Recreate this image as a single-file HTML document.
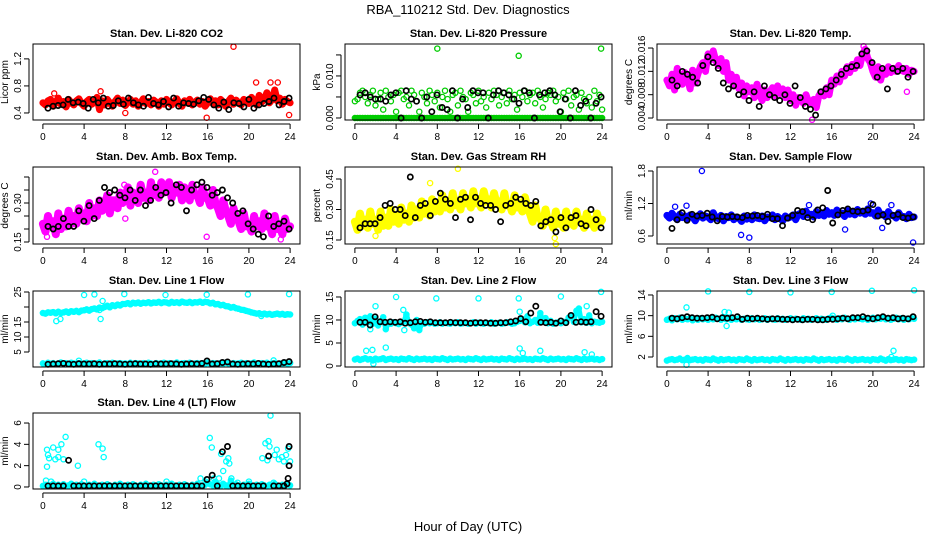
<!DOCTYPE html>
<html><head><meta charset="utf-8"><style>
html,body{margin:0;padding:0;background:#fff;}
svg text{font-family:"Liberation Sans",sans-serif;}
</style></head><body>
<svg id="fig" width="936" height="540" viewBox="0 0 936 540" xmlns="http://www.w3.org/2000/svg">
<text x="468" y="14" text-anchor="middle" font-size="13">RBA_110212  Std. Dev. Diagnostics</text>
<text x="468" y="531" text-anchor="middle" font-size="13">Hour of Day (UTC)</text>
</svg>
<script>
// ---------- data ----------
const xTicks=[0,4,8,12,16,20,24];
const co2Red=[0.55,0.52,0.58,0.60,0.50,0.56,0.62,0.53,0.57,0.49,0.60,0.55,0.52,0.58,0.61,0.54,0.50,0.57,0.60,0.53,0.56,0.63,0.45,0.58,0.52,0.60,0.55,0.50,0.57,0.62,0.54,0.59,0.51,0.56,0.60,0.53,0.58,0.50,0.55,0.61,0.54,0.57,0.52,0.59,0.56,0.50,0.58,0.53,0.60,0.55,0.52,0.57,0.61,0.54,0.50,0.58,0.55,0.60,0.52,0.56,0.59,0.53,0.57,0.50,0.55,0.61,0.54,0.58,0.52,0.60,0.56,0.50,0.57,0.62,0.53,0.59,0.55,0.52,0.60,0.57,0.54,0.63,0.58,0.52,0.66,0.56,0.61,0.70,0.55,0.60,0.74,0.58,0.62,0.53,0.60,0.57,0.55];
const co2Out=[[18.5,1.38],[20.7,0.85],[22.1,0.85],[22.8,0.85],[15.9,0.33],[23.9,0.37],[8,0.4],[5.6,0.72],[1.1,0.69]];
const co2Black=[0.47,0.50,0.51,0.52,0.60,0.55,0.56,0.54,0.47,0.60,0.55,0.62,0.50,0.51,0.58,0.53,0.62,0.55,0.52,0.50,0.63,0.54,0.52,0.57,0.49,0.62,0.50,0.55,0.54,0.53,0.58,0.63,0.60,0.52,0.47,0.56,0.45,0.55,0.54,0.49,0.60,0.47,0.52,0.54,0.57,0.62,0.52,0.57,0.62];

const presGreen=[.004,.0045,.006,.0065,.005,.0035,.0055,.0065,.003,.0045,.006,.002,.0065,.005,.004,.0055,.0015,.006,.0065,.0045,.005,.003,.0065,.0055,.004,.0015,.006,.005,.0035,.0065,.0055,.004,.006,.0025,.005,.0065,.0045,.0015,.0055,.006,.003,.0065,.005,.0045,.0015,.006,.0055,.0035,.0065,.004,.005,.0025,.006,.0045,.0065,.0055,.003,.005,.006,.0035,.0065,.0045,.0055,.002,.006,.005,.0065,.004,.0055,.006,.0035,.0065,.005,.0025,.0045,.006,.0055,.0065,.004,.005,.0015,.006,.0045,.0065,.003,.005,.0055,.002,.006,.0045,.0035,.005,.0025,.0065,.004,.0055,.002];
const presZero=[0,0,0,0,0,0,0,0,0,0,0,0,0,0,0,0,0,0,0,0,0,0,0,0,0,0,0,0,0,0,0,0,0,0,0,0,0,0,0,0,0,0,0,0,0,0,0,0,0,0,0,0,0,0,0,0,0,0,0,0,0,0,0,0,0,0,0,0,0,0,0,0,0,0,0,0,0,0,0,0,0,0,0,0,0,0,0,0,0,0,0,0,0,0,0,0,0];
const presOut=[[8,.0165],[15.9,.0148],[23.9,.0165]];
const presBlack=[.0055,.006,.005,.0045,.0045,.004,.0055,.006,0,.0065,.0045,.004,0,.005,.0015,.0055,.0025,.002,.0065,0,.0045,.0025,.0065,.006,.006,0,.0055,.0065,.006,.0055,.0045,.0035,.0065,.006,0,.0055,.006,.0065,.0055,.0015,.0045,0,.0065,.003,.004,0,.0035,.005];

const litMag=[.0105,.0095,.0115,.0088,.0125,.0105,.0098,.0118,.0108,.0090,.0122,.0100,.0115,.0128,.0135,.0120,.0150,.0140,.0155,.0138,.0130,.0142,.0120,.0135,.0105,.0115,.0095,.0110,.0090,.0100,.0078,.0095,.0085,.0092,.0075,.0098,.0080,.0070,.0088,.0075,.0085,.0092,.0078,.0095,.0082,.0090,.0075,.0088,.0070,.0080,.0062,.0075,.0072,.0065,.0080,.0068,.0065,.0072,.0058,.0078,.0085,.0078,.0092,.0080,.0105,.0098,.0112,.0102,.0120,.0112,.0128,.0118,.0132,.0125,.0140,.0130,.0150,.0158,.0142,.0135,.0120,.0110,.0128,.0105,.0122,.0115,.0128,.0118,.0125,.0120,.0130,.0122,.0120,.0125,.0115,.0122,.0120];
const litOut=[[14.1,.0037],[19.1,.0163],[23.3,.0085]];
const litBlack=[.0105,.0095,.0120,.0115,.0110,.0100,.0130,.0145,.0135,.0125,.0100,.0090,.0095,.0080,.0085,.0070,.0085,.0060,.0095,.0080,.0075,.0070,.0080,.0065,.0095,.0075,.0060,.0055,.0045,.0085,.0090,.0095,.0105,.0115,.0125,.0128,.0130,.0150,.0155,.0135,.0110,.0125,.0090,.0125,.0120,.0125,.0110,.0120];

const ambMag=[.22,.19,.25,.21,.23,.18,.26,.20,.24,.21,.27,.22,.25,.22,.28,.24,.26,.23,.30,.25,.28,.25,.31,.27,.29,.33,.26,.31,.31,.28,.34,.30,.32,.36,.29,.34,.33,.30,.37,.32,.34,.31,.38,.33,.35,.32,.38,.34,.35,.38,.32,.36,.34,.37,.31,.36,.34,.31,.37,.33,.33,.30,.36,.32,.32,.29,.35,.30,.28,.25,.31,.27,.25,.22,.28,.24,.23,.20,.26,.21,.22,.19,.25,.21,.23,.20,.26,.21,.22,.18,.25,.20,.21,.18,.24,.20,.21];
const ambOut=[[10.9,.42],[0.4,.17],[15.9,.17],[23.1,.16],[8,.24],[7.9,.37]];
const ambBlack=[.21,.20,.21,.24,.21,.21,.27,.23,.29,.24,.31,.36,.34,.35,.33,.32,.35,.31,.35,.29,.31,.36,.33,.34,.30,.37,.36,.27,.35,.37,.38,.36,.33,.34,.35,.32,.30,.26,.27,.22,.20,.18,.17,.25,.21,.22,.23,.20];

const rhYel=[.24,.20,.28,.22,.25,.21,.29,.23,.25,.20,.29,.22,.26,.22,.30,.24,.27,.23,.31,.25,.28,.24,.32,.26,.30,.26,.34,.28,.31,.27,.35,.29,.33,.29,.37,.31,.34,.30,.38,.32,.34,.30,.38,.33,.35,.31,.39,.33,.35,.31,.39,.34,.35,.31,.38,.33,.34,.30,.38,.32,.33,.29,.37,.31,.33,.29,.36,.31,.28,.24,.32,.26,.26,.22,.30,.24,.25,.21,.29,.23,.25,.21,.29,.23,.25,.22,.29,.24,.25,.21,.28,.23,.25,.21,.28,.23,.25];
const rhOut=[[10,.5],[19.5,.13],[7.3,.43],[2,.17],[19.4,.16]];
const rhBlack=[.21,.23,.23,.23,.26,.32,.33,.30,.30,.27,.46,.26,.32,.33,.27,.34,.38,.35,.33,.26,.35,.36,.25,.36,.33,.32,.32,.30,.24,.32,.33,.36,.35,.33,.32,.34,.22,.24,.25,.19,.26,.21,.26,.27,.23,.22,.30,.25,.21];

const sfBlue=[.98,.93,1.02,.95,.90,1.00,.94,.97,.92,.99,.95,.88,.96,1.01,.93,.97,.95,.90,1.03,.94,.92,.98,.88,.96,.94,.99,.90,.95,.93,.87,.97,.91,.95,.90,.99,.93,.92,.97,.88,.95,.94,.99,.90,.96,.92,.88,.97,.93,.95,.99,.90,1.00,1.02,.96,1.06,.99,1.00,.95,1.05,.98,1.02,.97,1.07,1.00,1.03,.98,1.08,1.01,1.02,.96,1.07,1.00,1.04,.99,1.09,1.02,1.05,1.00,1.10,1.02,1.03,.97,1.08,.99,1.00,.95,1.05,.98,.98,.93,1.03,.96,.96,.92,1.00,.94,.95];
const sfOut=[[3.4,1.8],[8,0.57],[7.2,0.62],[23.9,0.48],[1.9,1.16],[13.8,1.17],[19.8,1.2],[20.9,0.75],[17.3,0.72],[0.8,1.14],[21.8,1.17]];
const sfBlack=[.74,.90,1.03,.89,1.00,.97,.98,1.02,.95,.88,.96,.95,.96,.95,.94,.98,.97,.98,.96,1.00,.92,.92,.79,.93,.98,1.07,1.05,.94,.90,1.08,1.12,1.44,.84,.99,1.07,1.10,1.06,1.05,1.06,1.08,1.18,.97,.99,.87,.98,1.00,.94,.93,.95];

const l1Up=[18.0,17.8,18.2,18.1,18.3,17.9,18.4,18.0,18.2,18.5,18.1,18.6,18.4,18.7,18.3,18.8,18.9,19.2,18.8,19.3,19.5,19.2,19.8,19.6,20.0,20.4,19.9,20.6,20.3,20.8,20.5,21.0,21.0,21.3,20.9,21.4,21.2,21.5,21.1,21.4,21.3,21.6,21.2,21.5,21.4,21.7,21.3,21.6,21.5,21.2,21.7,21.4,21.6,21.3,21.8,21.5,21.4,21.7,21.3,21.6,21.5,21.8,21.4,21.7,21.6,21.2,21.4,20.9,21.0,20.6,20.7,20.3,20.2,19.8,20.0,19.6,19.4,19.1,19.0,18.7,18.5,18.2,18.0,17.8,17.9,17.6,17.8,17.5,17.7,17.4,17.6,17.8,17.5,17.7,17.4,17.6,17.5];
const l1Low=[1.2,1.0,1.4,1.1,1.3,0.9,1.2,1.5,1.0,1.3,1.1,1.4,1.2,1.0,1.3,1.1,1.2,1.4,1.0,1.3,1.1,1.2,1.5,1.0,1.2,1.3,1.1,1.4,1.0,1.2,1.3,1.1,1.2,1.0,1.4,1.1,1.3,1.2,1.0,1.3,1.1,1.4,1.2,1.0,1.3,1.1,1.2,1.4,1.0,1.3,1.1,1.2,1.5,1.0,1.2,1.3,1.1,1.4,1.0,1.2,1.3,1.1,1.2,1.0,1.4,1.1,1.3,1.2,1.0,1.3,1.1,1.4,1.2,1.0,1.3,1.1,1.2,1.4,1.0,1.3,1.1,1.2,1.5,1.0,1.2,1.3,1.1,1.4,1.0,1.2,1.3,1.1,1.2,1.0,1.4,1.1,1.3];
const l1Out=[[4,24],[5,24.2],[7.9,24.3],[11.9,24],[15.9,24.1],[19.9,24.2],[23.9,24.3],[1.3,15.3],[1.7,16],[5.6,16],[5.5,19],[3.5,2.1],[22.4,2.2],[5.8,22],[21.2,17]];
const l1Black=[0.9,1.0,1.1,1.2,1.0,0.9,1.1,1.0,1.0,1.1,0.9,1.0,1.0,1.1,1.0,0.9,1.0,1.1,1.0,1.0,0.9,1.1,1.0,1.0,1.1,1.0,0.9,1.0,1.1,1.0,1.2,2.0,1.0,1.1,1.5,1.7,1.0,0.9,1.0,1.1,1.0,1.2,1.0,0.9,1.0,1.1,1.5,1.8];

const l2Up=[9.3,9.8,10.2,9.0,10.5,9.5,10.8,9.2,10.3,8.8,9.6,10.6,8.0,9.4,9.2,9.5,9.3,9.1,9.4,9.6,11.2,9.3,9.0,8.2,10.0,7.8,9.3,9.2,9.5,9.3,9.4,9.2,9.3,9.5,9.2,9.4,9.3,9.2,9.4,9.3,9.5,9.2,9.3,9.4,9.2,9.3,9.5,9.2,9.4,9.3,9.2,9.4,9.3,9.5,9.2,9.3,9.4,9.2,9.3,9.5,9.4,9.2,9.3,9.6,9.8,10.2,9.5,10.8,9.3,9.6,10.0,9.4,11.5,9.6,10.4,9.3,9.8,9.2,9.4,9.5,9.3,9.6,9.4,10.5,11.0,9.6,12.0,12.5,9.5,10.2,9.4,11.0,9.3,9.6,9.5,9.4,9.6];
const l2Low=[1.4,1.6,1.3,1.5,1.7,1.4,1.5,1.2,1.6,1.4,1.5,1.7,1.3,1.5,1.6,1.4,1.5,1.3,1.6,1.5,1.4,1.7,1.5,1.3,1.6,1.4,1.5,1.6,1.4,1.5,1.3,1.6,1.5,1.4,1.7,1.5,1.3,1.6,1.4,1.5,1.6,1.4,1.5,1.3,1.6,1.5,1.4,1.7,1.5,1.3,1.6,1.4,1.5,1.6,1.4,1.5,1.3,1.6,1.5,1.4,1.7,1.5,1.3,1.6,1.4,1.5,1.6,1.4,1.5,1.3,1.6,1.5,1.4,1.7,1.5,1.3,1.6,1.4,1.5,1.6,1.4,1.5,1.3,1.6,1.5,1.4,1.7,1.5,1.3,1.6,1.4,1.5,1.6,1.4,1.5,1.3,1.5];
const l2Out=[[2,13],[4,15],[7.9,14.7],[12,14.7],[15.9,14.7],[16,11.8],[20,15.1],[23.9,16.1],[1.5,8],[4.8,7.8],[5,11],[1.8,0.5],[3,4],[16,3.8],[16.3,2.8],[18,3.3],[22.3,3],[1.1,3.3],[1.7,3.5],[23,2.5],[22.5,13],[4.7,12.2]];
const l2Black=[9.5,9.5,8.9,10.7,9.6,9.5,9.6,9.5,9.6,9.3,9.4,9.6,9.7,9.5,9.6,9.4,9.4,9.4,9.5,9.4,9.4,9.4,9.3,9.4,9.4,9.4,9.3,9.3,9.4,9.4,9.6,9.8,10.3,9.6,11.5,13.0,9.5,9.4,9.5,9.3,9.8,9.4,11.0,9.5,9.6,9.5,9.6,11.8,10.8];

const l3Up=[9.2,9.4,9.1,9.5,9.3,9.6,9.2,9.4,9.3,9.5,9.1,9.4,9.2,9.5,9.3,9.4,9.2,9.5,9.3,9.6,9.4,9.2,9.7,9.3,9.5,9.2,9.4,9.3,9.5,9.2,9.4,9.3,9.2,9.5,9.3,9.4,9.2,9.3,9.5,9.2,9.4,9.3,9.2,9.5,9.3,9.4,9.2,9.3,9.5,9.2,9.4,9.3,9.2,9.5,9.3,9.4,9.2,9.3,9.5,9.2,9.4,9.3,9.2,9.5,9.6,9.4,9.2,9.5,9.3,9.6,9.4,9.2,9.5,9.3,9.6,9.4,9.3,9.5,9.2,9.4,9.6,9.3,9.5,9.4,9.7,9.3,9.5,9.2,9.4,9.6,9.3,9.5,9.2,9.4,9.3,9.5,9.4];
const l3Low=[1.3,1.5,1.6,1.4,1.5,1.7,1.4,1.5,1.8,1.4,1.5,1.6,1.4,1.5,1.3,1.6,1.5,1.4,1.7,1.5,1.3,1.6,1.4,1.5,1.6,1.4,1.5,1.3,1.6,1.5,1.4,1.7,1.5,1.3,1.6,1.4,1.5,1.6,1.4,1.5,1.3,1.6,1.5,1.4,1.7,1.5,1.3,1.6,1.4,1.5,1.6,1.4,1.5,1.3,1.6,1.5,1.4,1.7,1.5,1.3,1.6,1.4,1.5,1.6,1.4,1.5,1.3,1.6,1.5,1.4,1.7,1.5,1.3,1.6,1.4,1.5,1.6,1.4,1.5,1.3,1.6,1.5,1.4,1.7,1.5,1.3,1.6,1.4,1.5,1.6,1.4,1.5,1.3,1.6,1.5,1.4,1.5];
const l3Out=[[4,14.7],[8,14.6],[12,14.5],[16,14.6],[19.9,14.8],[24,14.9],[1.9,11.6],[5.6,10.7],[6,10.6],[5.8,8],[22,3.2],[1.9,0.5],[16.1,10],[21.8,2]];
const l3Black=[9.5,9.4,9.6,9.8,9.6,9.5,9.5,9.6,9.7,9.4,9.6,9.5,9.6,9.8,9.3,9.5,9.4,9.5,9.4,9.3,9.4,9.4,9.3,9.3,9.2,9.3,9.2,9.3,9.3,9.2,9.2,9.3,9.3,9.4,9.5,9.4,9.6,9.6,9.8,9.5,9.4,9.6,9.8,9.5,9.6,9.4,9.5,9.4,9.8];

const l4Low=[0.1,0.2,0.05,0.15,0.3,0.1,0.2,0.05,0.25,0.1,0.15,0.3,0.05,0.2,0.1,0.25,0.15,0.05,0.2,0.1,0.3,0.15,0.05,0.2,0.1,0.25,0.15,0.05,0.2,0.1,0.3,0.15,0.05,0.2,0.1,0.25,0.15,0.05,0.2,0.1,0.3,0.15,0.05,0.2,0.1,0.25,0.15,0.05,0.2,0.1,0.3,0.15,0.05,0.2,0.1,0.25,0.15,0.05,0.2,0.1,0.3,0.15,0.05,0.2,0.4,0.25,0.15,0.5,0.2,0.1,0.3,0.15,0.05,0.6,0.1,0.25,0.15,0.05,0.2,0.1,0.3,0.15,0.05,0.2,0.1,0.25,0.15,0.05,0.2,0.1,0.3,0.15,0.05,0.2,0.1,0.25,0.15];
const l4Out=[[0.3,0.6],[0.4,3.5],[0.5,3],[0.6,2.7],[0.4,1.9],[1,3.7],[1.2,2.6],[1.5,3.5],[1.5,2.8],[1.8,4],[2,2.6],[2.2,4.7],[3.4,2],[4,0.5],[5.4,4],[5.8,3.6],[5.9,2.8],[12,0.5],[15.3,0.8],[16.2,4.6],[16.4,3.7],[16.6,0.8],[17.1,0.8],[17.3,3.1],[17.5,1.5],[17.8,2.4],[18,2.7],[18.1,2.2],[18.3,0.8],[18.9,0.4],[20,0.5],[21.3,2.7],[21.6,4.1],[21.8,2.5],[21.9,4.3],[22,3.8],[22.1,6.7],[22.4,0.4],[22.5,3],[22.7,3.5],[22.9,2.6],[23.2,2.8],[23.4,2.4],[23.6,3],[23.8,3.6],[24,2.4],[15.8,0.5],[0.8,0.5]];
const l4Black=[0.1,0.1,0.1,0.1,2.5,0.1,0.1,0.1,0.1,0.1,0.1,0.1,0.1,0.1,0.1,0.1,0.1,0.1,0.1,0.1,0.1,0.1,0.1,0.1,0.1,0.1,0.1,0.1,0.1,0.1,0.1,0.7,1.1,0.1,3.3,3.8,0.1,0.1,0.1,0.1,0.1,0.1,0.1,2.9,0.1,0.1,0.1,3.8];
const l4BlackOut=[[23.9,2.0],[23.8,0.8],[23.7,0.3]];

// ---------- layout ----------
const COLS=[[33,300],[345,612],[657,924]];
const ROWS=[[44,120],[167,244],[291,367],[413,489]];
const panels=[
 {name:'li820-co2',title:'Stan. Dev. Li-820 CO2',yl:'Licor ppm',c:0,r:0,ylim:[0.296,1.42],yt:[0.4,0.8,1.2],ytl:['0.4','0.8','1.2'],grid:[[co2Red,'#ff0000',7]],out:[[co2Out,'#ff0000']],black:co2Black},
 {name:'li820-pressure',title:'Stan. Dev. Li-820 Pressure',yl:'kPa',c:1,r:0,ylim:[-0.00048,0.0176],yt:[0,0.005,0.010,0.015],ytl:['0.000','','0.010',''],grid:[[presZero,'#00cc00',5],[presGreen,'#00cc00',0]],out:[[presOut,'#00cc00']],black:presBlack},
 {name:'li820-temp',title:'Stan. Dev. Li-820 Temp.',yl:'degrees C',c:2,r:0,ylim:[0.00366,0.01669],yt:[0.004,0.008,0.012,0.016],ytl:['0.004','0.008','0.012','0.016'],grid:[[litMag,'#ff00ff',7]],out:[[litOut,'#ff00ff']],black:litBlack},
 {name:'amb-box-temp',title:'Stan. Dev. Amb. Box Temp.',yl:'degrees C',c:0,r:1,ylim:[0.1423,0.4385],yt:[0.15,0.20,0.25,0.30,0.35,0.40],ytl:['0.15','','','0.30','',''],grid:[[ambMag,'#ff00ff',8]],out:[[ambOut,'#ff00ff']],black:ambBlack},
 {name:'gas-stream-rh',title:'Stan. Dev. Gas Stream RH',yl:'percent',c:1,r:1,ylim:[0.1303,0.509],yt:[0.15,0.30,0.45],ytl:['0.15','0.30','0.45'],grid:[[rhYel,'#ffff00',8]],out:[[rhOut,'#ffff00']],black:rhBlack},
 {name:'sample-flow',title:'Stan. Dev. Sample Flow',yl:'ml/min',c:2,r:1,ylim:[0.452,1.874],yt:[0.6,1.2,1.8],ytl:['0.6','1.2','1.8'],grid:[[sfBlue,'#0000ff',7]],out:[[sfOut,'#0000ff']],black:sfBlack},
 {name:'line1-flow',title:'Stan. Dev. Line 1 Flow',yl:'ml/min',c:0,r:2,ylim:[0,25.33],yt:[5,10,15,20,25],ytl:['5','10','15','','25'],grid:[[l1Up,'#00ffff',6],[l1Low,'#00ffff',5]],out:[[l1Out,'#00ffff']],black:l1Black},
 {name:'line2-flow',title:'Stan. Dev. Line 2 Flow',yl:'ml/min',c:1,r:2,ylim:[-0.22,16.3],yt:[0,5,10,15],ytl:['0','5','10','15'],grid:[[l2Up,'#00ffff',5],[l2Low,'#00ffff',5]],out:[[l2Out,'#00ffff']],black:l2Black},
 {name:'line3-flow',title:'Stan. Dev. Line 3 Flow',yl:'ml/min',c:2,r:2,ylim:[0.065,14.77],yt:[2,6,10,14],ytl:['2','6','10','14'],grid:[[l3Up,'#00ffff',5],[l3Low,'#00ffff',5]],out:[[l3Out,'#00ffff']],black:l3Black},
 {name:'line4-flow',title:'Stan. Dev. Line 4 (LT) Flow',yl:'ml/min',c:0,r:3,ylim:[-0.19,6.94],yt:[0,2,4,6],ytl:['0','2','4','6'],grid:[[l4Low,'#00ffff',5]],out:[[l4Out,'#00ffff']],black:l4Black,blackOut:l4BlackOut}
];
const XMIN=-0.96,XMAX=24.96,BSTART=0.5,BEND=23.9;

const NS='http://www.w3.org/2000/svg';
const svg=document.getElementById('fig');
function mk(tag,attrs,parent){const e=document.createElementNS(NS,tag);for(const k in attrs)e.setAttribute(k,attrs[k]);parent.appendChild(e);return e;}

panels.forEach(p=>{
  const [x0,x1]=COLS[p.c],[y0,y1]=ROWS[p.r];
  const sx=v=>x0+(v-XMIN)/(XMAX-XMIN)*(x1-x0);
  const sy=v=>y1-(v-p.ylim[0])/(p.ylim[1]-p.ylim[0])*(y1-y0);
  const g=mk('g',{},svg);
  
  
  const t=mk('text',{x:(x0+x1)/2,y:y0-7,'text-anchor':'middle','font-size':11,'font-weight':'bold'},g);
  t.textContent=p.title;
  
  
  const yl=mk('text',{x:0,y:0,'text-anchor':'middle','font-size':10,transform:`translate(${x0-25},${(y0+y1)/2}) rotate(-90)`},g);
  yl.textContent=p.yl;
  
  
  const marks=mk('g',{fill:'none','stroke-width':1.3},g);
  
  
  function dot(tv,v,col,w){
    const c=mk('circle',{cx:sx(tv).toFixed(1),cy:sy(v).toFixed(1),r:2.6,stroke:col,'stroke-width':w||1.3},marks);
    
    
  }
  p.grid.forEach(([arr,col,bw])=>{
    if(bw){
      const pts=arr.map((v,i)=>sx(i*24/(arr.length-1)).toFixed(1)+','+sy(v).toFixed(1)).join(' ');
      const pl=mk('polyline',{points:pts,fill:'none',stroke:col,'stroke-width':bw,'stroke-linejoin':'round','stroke-linecap':'round'},marks);
      
      
    }
    arr.forEach((v,i)=>dot(i*24/(arr.length-1),v,col));
  });
  p.out.forEach(([arr,col])=>arr.forEach(([tv,v])=>dot(tv,v,col)));
  p.black.forEach((v,i)=>dot(BSTART+i*(BEND-BSTART)/(p.black.length-1),v,'#000',1.7));
  if(p.blackOut)p.blackOut.forEach(([tv,v])=>dot(tv,v,'#000',1.7));
  const box=mk('rect',{x:x0,y:y0,width:x1-x0,height:y1-y0,fill:'none',stroke:'#000','stroke-width':1},g);
  
  
  const ax=mk('g',{stroke:'#000','stroke-width':1},g);
  
  
  mk('line',{x1:sx(xTicks[0]),x2:sx(xTicks[xTicks.length-1]),y1:y1+4,y2:y1+4},ax);
  xTicks.forEach(v=>{
    mk('line',{x1:sx(v),x2:sx(v),y1:y1+4,y2:y1+9},ax);
    const tl=mk('text',{x:sx(v),y:y1+20,'text-anchor':'middle','font-size':10,stroke:'none',fill:'#000'},g);
    tl.textContent=String(v);
    
    
  });
  mk('line',{x1:x0-4,x2:x0-4,y1:sy(p.yt[0]),y2:sy(p.yt[p.yt.length-1])},ax);
  p.yt.forEach((v,i)=>{
    mk('line',{x1:x0-9,x2:x0-4,y1:sy(v),y2:sy(v)},ax);
    if(p.ytl[i]){
      const tl=mk('text',{x:0,y:0,'text-anchor':'middle','font-size':10,transform:`translate(${x0-12},${sy(v)}) rotate(-90)`},g);
      tl.textContent=p.ytl[i];
      
      
    }
  });
});
</script>
</body></html>
